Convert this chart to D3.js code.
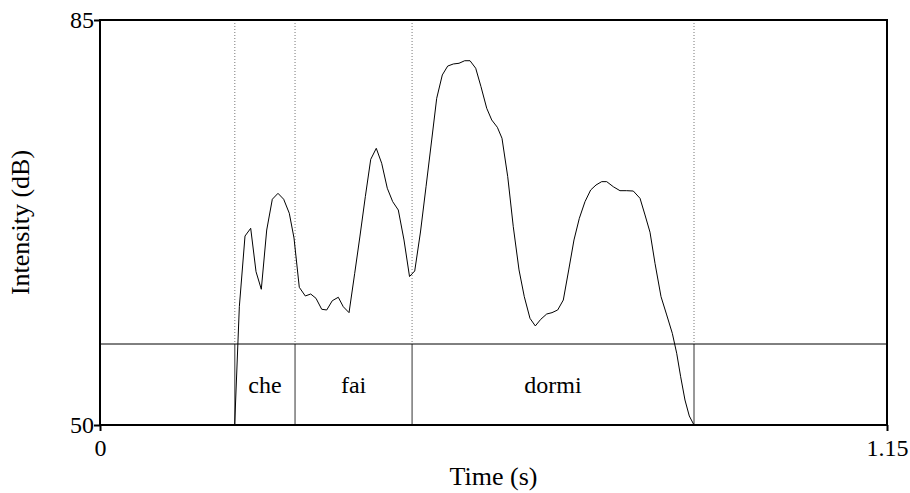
<!DOCTYPE html>
<html>
<head>
<meta charset="utf-8">
<script src="https://cdn.jsdelivr.net/npm/d3@7"></script>
<style>
  body { margin: 0; background: #fff; }
</style>
</head>
<body>
<svg id="chart" width="910" height="493"></svg>
<script>
// intensity contour
var times = [0.1968, 0.2036, 0.2119, 0.2202, 0.2280, 0.2357, 0.2436, 0.2518, 0.2601, 0.2684,
  0.2766, 0.2835, 0.2912, 0.3000, 0.3079, 0.3156, 0.3240, 0.3313, 0.3394, 0.3482,
  0.3555, 0.3639, 0.3722, 0.3799, 0.3877, 0.3956, 0.4037, 0.4116, 0.4198, 0.4277,
  0.4359, 0.4442, 0.4523, 0.4599, 0.4683, 0.4764, 0.4847, 0.4920, 0.5002, 0.5081,
  0.5163, 0.5246, 0.5329, 0.5407, 0.5490, 0.5567, 0.5651, 0.5724, 0.5806, 0.5874,
  0.5958, 0.6039, 0.6123, 0.6200, 0.6283, 0.6361, 0.6440, 0.6527, 0.6605, 0.6688,
  0.6770, 0.6849, 0.6926, 0.7004, 0.7087, 0.7170, 0.7248, 0.7331, 0.7404, 0.7501,
  0.7598, 0.7696, 0.7793, 0.7891, 0.7964, 0.8037, 0.8110, 0.8198, 0.8281, 0.8363,
  0.8427, 0.8485, 0.8548, 0.8611, 0.8680];
var intensity = [50.00, 60.22, 66.33, 67.00, 63.25, 61.73, 66.85, 69.51, 70.02, 69.51,
  68.30, 66.16, 61.90, 61.15, 61.32, 60.95, 60.00, 59.94, 60.74, 61.04,
  60.22, 59.71, 63.11, 66.33, 69.73, 72.96, 73.91, 72.62, 70.46, 69.30,
  68.58, 65.99, 62.83, 63.31, 66.68, 70.59, 74.63, 78.23, 80.25, 81.02,
  81.20, 81.26, 81.48, 81.48, 80.83, 79.24, 77.37, 76.36, 75.73, 74.78,
  71.46, 67.14, 63.40, 61.09, 59.22, 58.56, 59.13, 59.59, 59.71, 59.94,
  60.80, 63.40, 65.99, 67.86, 69.30, 70.31, 70.74, 71.03, 71.03, 70.59,
  70.25, 70.25, 70.22, 69.59, 68.15, 66.66, 63.97, 61.09, 59.51, 57.92,
  56.20, 54.17, 52.16, 50.78, 50.00];

// text grid intervals
var boundaries = [0.197, 0.285, 0.456, 0.868];
var words = ["che", "fai", "dormi"];

var xDomain = [0, 1.15];
var yDomain = [50, 85];
var xTickLabels = ["0", "1.15"];
var yTickLabels = ["50", "85"];

var FONT = "'Liberation Serif', 'Times New Roman', serif";

var margin = { left: 100, right: 23, top: 20, bottom: 68 };
var width = 910 - margin.left - margin.right;
var height = 493 - margin.top - margin.bottom;
var tierTop = 81; // height of the tier strip at the bottom

var svg = d3.select("#chart");
var g = svg.append("g").attr("transform", "translate(" + margin.left + "," + margin.top + ")");

var x = d3.scaleLinear().domain(xDomain).range([0, width]);
var y = d3.scaleLinear().domain(yDomain).range([height, 0]);

// dotted boundary lines above the tier
g.selectAll(".dots")
  .data(boundaries)
  .enter().append("line")
  .attr("class", "dots")
  .attr("x1", function (d) { return x(d); })
  .attr("x2", function (d) { return x(d); })
  .attr("y1", 0)
  .attr("y2", height - tierTop)
  .attr("stroke", "#777")
  .attr("stroke-width", 1)
  .attr("stroke-dasharray", "1,2");

// solid boundary lines inside the tier
g.selectAll(".bound")
  .data(boundaries)
  .enter().append("line")
  .attr("class", "bound")
  .attr("x1", function (d) { return x(d); })
  .attr("x2", function (d) { return x(d); })
  .attr("y1", height - tierTop)
  .attr("y2", height)
  .attr("stroke", "#333")
  .attr("stroke-width", 1);

// tier top line
g.append("line")
  .attr("x1", 0).attr("x2", width)
  .attr("y1", height - tierTop).attr("y2", height - tierTop)
  .attr("stroke", "#000").attr("stroke-width", 1);

// word labels
g.selectAll(".word")
  .data(words)
  .enter().append("text")
  .attr("class", "word")
  .attr("x", function (d, i) { return (x(boundaries[i]) + x(boundaries[i + 1])) / 2; })
  .attr("y", height - tierTop / 2 + 8)
  .attr("text-anchor", "middle")
  .style("font-family", FONT)
  .style("font-size", "24px")
  .style("fill", "#000")
  .text(function (d) { return d; });

// intensity curve
var pts = times.map(function (t, i) { return [t, intensity[i]]; });
g.append("path")
  .datum(pts)
  .attr("fill", "none")
  .attr("stroke", "#000")
  .attr("stroke-width", 1)
  .attr("d", d3.line()
    .x(function (d) { return x(d[0]); })
    .y(function (d) { return y(d[1]); }));

// frame
g.append("rect")
  .attr("x", 0).attr("y", 0)
  .attr("width", width).attr("height", height)
  .attr("fill", "none")
  .attr("stroke", "#000")
  .attr("stroke-width", 2);

// axes: only the end ticks
var xAxis = d3.axisBottom(x)
  .tickValues(xDomain)
  .tickFormat(function (d, i) { return xTickLabels[i]; })
  .tickSize(6)
  .tickSizeOuter(0);
var yAxis = d3.axisLeft(y)
  .tickValues(yDomain)
  .tickFormat(function (d, i) { return yTickLabels[i]; })
  .tickSize(6)
  .tickSizeOuter(0);

var gx = g.append("g").attr("transform", "translate(0," + height + ")").call(xAxis);
var gy = g.append("g").call(yAxis);
[gx, gy].forEach(function (a) {
  a.attr("font-family", null).attr("font-size", null);
  a.select(".domain").remove();
  a.selectAll(".tick line").attr("stroke", "#000").attr("stroke-width", 2);
  a.selectAll(".tick text")
    .style("font-family", FONT)
    .style("font-size", "24px")
    .attr("fill", "#000");
});
gx.selectAll(".tick text").attr("dy", "0.9em");
gy.selectAll(".tick text").attr("x", -6).attr("dy", "0.33em");

// axis titles
svg.append("text")
  .attr("x", margin.left + width / 2)
  .attr("y", 485)
  .attr("text-anchor", "middle")
  .style("font-family", FONT)
  .style("font-size", "26px")
  .style("fill", "#000")
  .text("Time (s)");

svg.append("text")
  .attr("transform", "translate(29," + (margin.top + height / 2) + ") rotate(-90)")
  .attr("text-anchor", "middle")
  .style("font-family", FONT)
  .style("font-size", "26px")
  .style("fill", "#000")
  .text("Intensity (dB)");
</script>
</body>
</html>
